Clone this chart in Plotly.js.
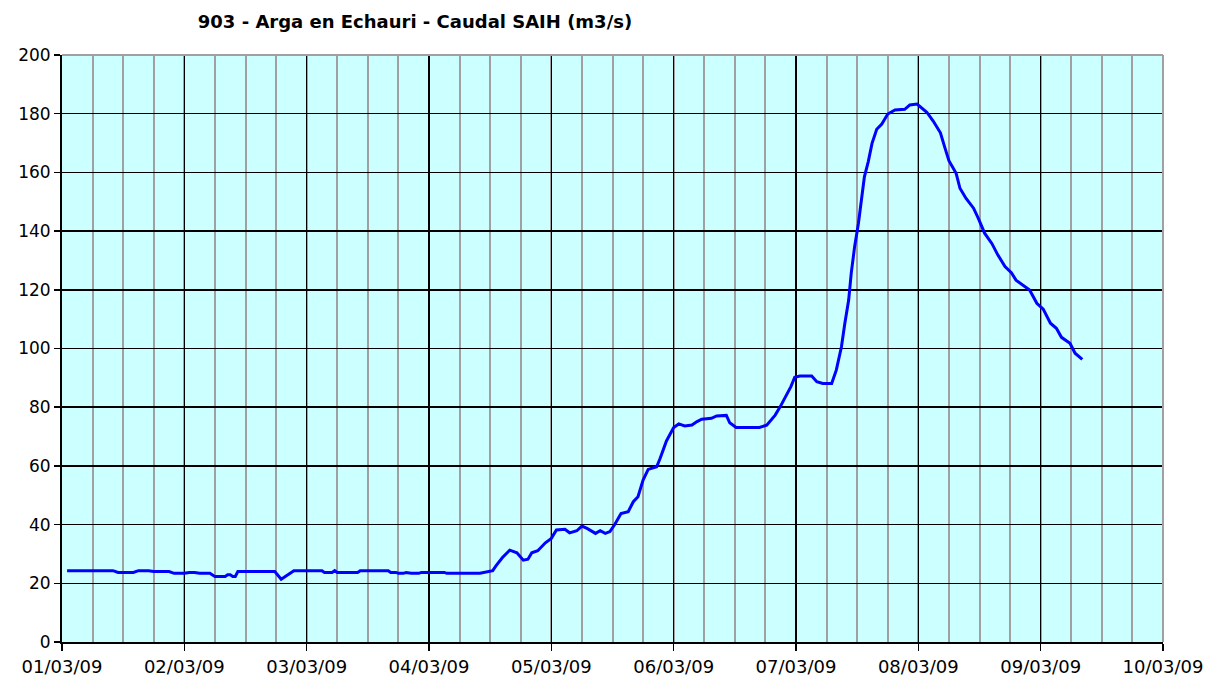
<!DOCTYPE html>
<html>
<head>
<meta charset="utf-8">
<script src="https://cdn.plot.ly/plotly-3.0.1.min.js"></script>
<style>html,body{margin:0;padding:0;background:#fff;}#chart{width:1221px;height:679px;}</style>
</head>
<body>
<div id="chart"></div>
<script>
const titleText = "903 - Arga en Echauri - Caudal SAIH (m3/s)";
const xTickVals = ["2009-03-01","2009-03-02","2009-03-03","2009-03-04","2009-03-05","2009-03-06","2009-03-07","2009-03-08","2009-03-09","2009-03-10"];
const xTickText = ["01/03/09","02/03/09","03/03/09","04/03/09","05/03/09","06/03/09","07/03/09","08/03/09","09/03/09","10/03/09"];
const yTickVals = [0,20,40,60,80,100,120,140,160,180,200];

const times = [
"2009-03-01 01:00","2009-03-01 10:00","2009-03-01 11:00","2009-03-01 14:00","2009-03-01 15:00","2009-03-01 17:00",
"2009-03-01 18:00","2009-03-01 21:00","2009-03-01 22:00","2009-03-02 00:00","2009-03-02 01:00","2009-03-02 02:00",
"2009-03-02 03:00","2009-03-02 05:00","2009-03-02 06:00","2009-03-02 08:00","2009-03-02 08:30","2009-03-02 09:00",
"2009-03-02 09:30","2009-03-02 10:00","2009-03-02 10:30","2009-03-02 17:45","2009-03-02 19:00","2009-03-02 20:00",
"2009-03-02 21:00","2009-03-02 21:30","2009-03-03 03:00","2009-03-03 03:30","2009-03-03 05:00","2009-03-03 05:30",
"2009-03-03 06:00","2009-03-03 10:00","2009-03-03 10:30","2009-03-03 16:00","2009-03-03 16:30","2009-03-03 17:30",
"2009-03-03 18:00","2009-03-03 19:00","2009-03-03 19:30","2009-03-03 20:30","2009-03-03 22:00","2009-03-03 22:30",
"2009-03-04 03:00","2009-03-04 03:30","2009-03-04 10:00","2009-03-04 11:00","2009-03-04 12:00","2009-03-04 12:30",
"2009-03-04 13:10","2009-03-04 14:25","2009-03-04 15:50","2009-03-04 17:15","2009-03-04 18:30","2009-03-04 19:25",
"2009-03-04 20:10","2009-03-04 21:20","2009-03-04 22:50","2009-03-05 00:00","2009-03-05 01:00","2009-03-05 02:40",
"2009-03-05 03:35","2009-03-05 05:00","2009-03-05 06:00","2009-03-05 07:00","2009-03-05 08:40","2009-03-05 09:35",
"2009-03-05 10:35","2009-03-05 11:30","2009-03-05 12:30","2009-03-05 13:40","2009-03-05 15:05","2009-03-05 16:05",
"2009-03-05 17:00","2009-03-05 18:00","2009-03-05 19:00","2009-03-05 20:40","2009-03-05 21:20","2009-03-05 22:35",
"2009-03-06 00:00","2009-03-06 01:00","2009-03-06 02:10","2009-03-06 03:35","2009-03-06 04:35","2009-03-06 05:30",
"2009-03-06 07:25","2009-03-06 08:25","2009-03-06 10:20","2009-03-06 11:00","2009-03-06 12:15","2009-03-06 16:50",
"2009-03-06 18:15","2009-03-06 19:55","2009-03-06 20:55","2009-03-06 21:50","2009-03-06 23:00","2009-03-06 23:45",
"2009-03-07 00:45","2009-03-07 03:05","2009-03-07 04:05","2009-03-07 05:15","2009-03-07 07:00","2009-03-07 07:55",
"2009-03-07 08:55","2009-03-07 09:35","2009-03-07 10:20","2009-03-07 10:50","2009-03-07 11:30","2009-03-07 12:15",
"2009-03-07 13:00","2009-03-07 13:25","2009-03-07 14:10","2009-03-07 14:55","2009-03-07 15:50","2009-03-07 16:50",
"2009-03-07 18:00","2009-03-07 19:25","2009-03-07 21:20","2009-03-07 22:20","2009-03-07 23:45","2009-03-08 01:40",
"2009-03-08 02:55","2009-03-08 04:20","2009-03-08 05:15","2009-03-08 06:00","2009-03-08 07:25","2009-03-08 08:10",
"2009-03-08 09:20","2009-03-08 10:50","2009-03-08 11:45","2009-03-08 13:00","2009-03-08 14:25","2009-03-08 15:35",
"2009-03-08 17:00","2009-03-08 18:15","2009-03-08 19:10","2009-03-08 21:50","2009-03-08 23:15","2009-03-09 00:30",
"2009-03-09 01:55","2009-03-09 03:05","2009-03-09 04:05","2009-03-09 05:45","2009-03-09 06:45","2009-03-09 08:10"
];
const caudal = [
24.3,24.3,23.7,23.7,24.3,24.3,
24.0,24.0,23.4,23.4,23.7,23.7,
23.4,23.4,22.3,22.3,22.9,22.9,
22.3,22.3,24.0,24.0,21.4,22.6,
24.0,24.3,24.3,23.7,23.7,24.3,
23.7,23.7,24.3,24.3,23.7,23.7,
23.4,23.4,23.7,23.4,23.4,23.7,
23.7,23.4,23.4,23.7,24.0,24.3,
26.0,28.8,31.3,30.4,27.9,28.2,
30.4,31.1,33.8,35.3,38.2,38.4,
37.2,37.9,39.5,38.7,37.0,37.9,
37.0,37.6,40.2,43.8,44.4,47.8,
49.5,55.2,58.8,59.7,62.5,68.5,
73.1,74.3,73.6,73.9,75.1,75.9,
76.2,77.0,77.2,74.7,73.1,73.1,
73.9,77.3,80.2,83.0,87.0,90.2,
90.6,90.6,88.7,88.1,88.1,92.7,
100.6,108.6,116.5,125.6,134.7,142.7,
151.7,158.5,163.6,169.9,174.7,176.5,
179.9,181.3,181.5,183.0,183.3,180.5,
177.5,173.5,168.2,164.0,159.7,154.6,
151.2,147.8,144.4,139.3,135.8,131.9,
127.9,125.8,123.3,119.9,115.4,113.4,
108.6,106.9,103.8,101.8,98.4,96.3
];

const font = "DejaVu Sans, Verdana, sans-serif";

Plotly.newPlot("chart", [{
  x: times, y: caudal, type: "scatter", mode: "lines",
  line: {color: "#0000FF", width: 3},
  hoverinfo: "skip"
}], {
  width: 1221, height: 679,
  margin: {l: 62, r: 58, t: 55, b: 37},
  paper_bgcolor: "#FFFFFF",
  plot_bgcolor: "#CCFFFF",
  showlegend: false,
  title: {text: "<b>" + titleText + "</b>", font: {family: font, size: 18, color: "#000"}, x: 415/1221, xanchor: "center", y: 1 - 22/679, yanchor: "middle"},
  xaxis: {
    type: "date",
    range: ["2009-03-01", "2009-03-10"],
    tickmode: "array", tickvals: xTickVals, ticktext: xTickText,
    ticks: "outside", ticklen: 7, tickcolor: "#000", tickwidth: 1.5,
    showgrid: true, gridcolor: "#000", gridwidth: 1.5,
    minor: {dtick: 6*3600*1000, showgrid: true, gridcolor: "#A0A0A0", gridwidth: 2, ticks: ""},
    showline: true, linecolor: "#000", linewidth: 2,
    tickfont: {family: font, size: 18, color: "#000"},
    zeroline: false, fixedrange: true
  },
  yaxis: {
    range: [0, 200],
    tickmode: "array", tickvals: yTickVals,
    ticks: "outside", ticklen: 6, tickcolor: "#000", tickwidth: 1.5,
    showgrid: true, gridcolor: "#000", gridwidth: 1.5,
    showline: true, linecolor: "#000", linewidth: 2,
    tickfont: {family: font, size: 17, color: "#000"},
    zeroline: false, fixedrange: true
  },
  shapes: [
    {type: "line", xref: "paper", yref: "paper", x0: 0, x1: 1, y0: 1, y1: 1, line: {color: "#A0A0A0", width: 2}},
    {type: "line", xref: "paper", yref: "paper", x0: 1, x1: 1, y0: 0, y1: 1, line: {color: "#A0A0A0", width: 2}}
  ]
}, {displayModeBar: false, staticPlot: true});
</script>
</body>
</html>
